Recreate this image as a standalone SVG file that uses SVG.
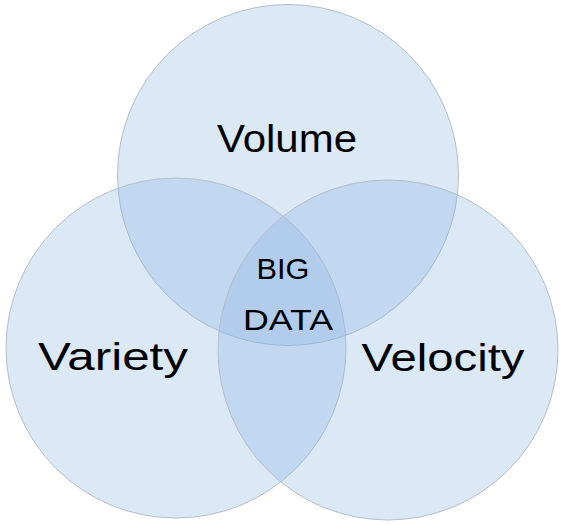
<svg xmlns="http://www.w3.org/2000/svg" width="566" height="525" viewBox="0 0 566 525">
<style>
.c{fill:#8bb5e2;fill-opacity:0.31;stroke:#b4bec8;stroke-width:1}
.t{font-family:"Liberation Sans","DejaVu Sans",sans-serif;fill:#000;text-anchor:middle}
.big{font-size:38px}
.mid{font-size:30px}
</style>
<rect width="566" height="525" fill="#fff"/>
<g id="volume">
<circle class="c" cx="288" cy="175" r="170.5"/>
<text class="t big" x="287" y="152" textLength="140" lengthAdjust="spacingAndGlyphs">Volume</text>
</g>
<g id="variety">
<circle class="c" cx="176" cy="348" r="170"/>
<text class="t big" x="113" y="370" textLength="150" lengthAdjust="spacingAndGlyphs">Variety</text>
</g>
<g id="velocity">
<circle class="c" cx="388" cy="350" r="170"/>
<text class="t big" x="443" y="371" textLength="163" lengthAdjust="spacingAndGlyphs">Velocity</text>
</g>
<g id="bigdata">
<text class="t mid" x="283" y="279" textLength="53" lengthAdjust="spacingAndGlyphs">BIG</text>
<text class="t mid" x="288" y="330" textLength="90" lengthAdjust="spacingAndGlyphs">DATA</text>
</g>
<g id="connectors"/>
</svg>
